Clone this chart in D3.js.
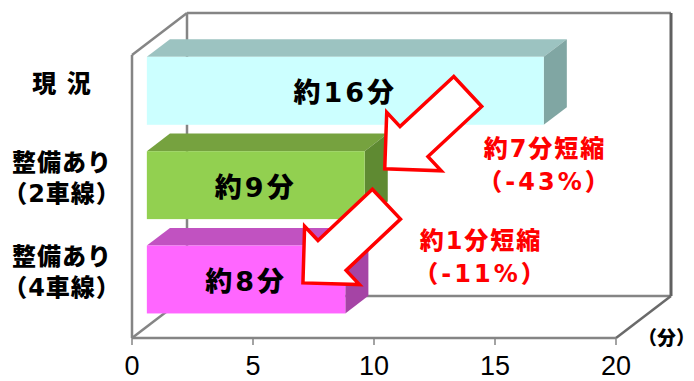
<!DOCTYPE html>
<html>
<head>
<meta charset="utf-8">
<script src="https://cdn.jsdelivr.net/npm/d3@7"></script>
<style>
  body { margin: 0; background: #fff; }
  svg { display: block; font-family: "DejaVu Sans", "Noto Sans CJK JP", sans-serif; }
</style>
</head>
<body>
<svg id="chart" width="694" height="381"></svg>
<script>
// data
const categories = [["現 況"], ["整備あり", "（2車線）"], ["整備あり", "（4車線）"]];
const minutes = [16.4, 9.0, 8.2];
const barLabels = ["約16分", "約9分", "約8分"];
const xTicks = [0, 5, 10, 15, 20];
const cutLabels = ["約7分短縮", "約1分短縮"];
const cutRates = ["（-43%）", "（-11%）"];
const unitLabel = "（分）";

const faceColors = ["#ccffff", "#92d050", "#ff66ff"];
const topColors = ["#9cc3c1", "#76a23f", "#c152c1"];
const sideColors = ["#80a6a3", "#5f8a32", "#a544a5"];

const svg = d3.select("#chart");

const x = d3.scaleLinear().domain([0, 20]).range([132, 616]);
const top0 = 55, bottom0 = 338;
const depth = { dx: 55, dy: -42 };
// bars sit between 27% and 69% of the floor depth
const front = 0.27, back = 0.69;
const y = d3.scaleBand().domain(d3.range(categories.length))
  .range([top0, bottom0]).paddingInner(0.28).paddingOuter(0.14);
const bw = y.bandwidth();

const fx = v => x(v) + front * depth.dx;
const fy = i => y(i) + front * depth.dy;

// back wall + floor (behind the bars)
const frame = svg.append("g").attr("fill", "none").attr("stroke", "#858585").attr("stroke-width", 2.5);
const xb = v => x(v) + depth.dx;
const yTopB = top0 + depth.dy, yBotB = bottom0 + depth.dy;
frame.append("line").attr("x1", xb(0)).attr("y1", yTopB).attr("x2", xb(0)).attr("y2", yBotB);
frame.append("line").attr("x1", xb(0)).attr("y1", yBotB).attr("x2", xb(20)).attr("y2", yBotB);
frame.append("line").attr("x1", x(0)).attr("y1", bottom0).attr("x2", xb(0)).attr("y2", yBotB);
frame.append("line").attr("x1", x(0)).attr("y1", top0).attr("x2", xb(0)).attr("y2", yTopB);
frame.append("line").attr("x1", xb(0)).attr("y1", yTopB).attr("x2", xb(20)).attr("y2", yTopB);
frame.append("line").attr("x1", xb(20)).attr("y1", yTopB).attr("x2", xb(20)).attr("y2", yBotB)
  .attr("stroke", "#606060").attr("stroke-width", 3);
frame.append("line").attr("x1", xb(20)).attr("y1", yBotB).attr("x2", x(20)).attr("y2", bottom0)
  .attr("stroke", "#6a6a6a");

// bars
const bars = svg.selectAll(".bar").data(minutes).enter().append("g").attr("class", "bar");
const bdx = (back - front) * depth.dx, bdy = (back - front) * depth.dy;
bars.append("polygon")
  .attr("fill", (d, i) => topColors[i])
  .attr("points", (d, i) => [
    [fx(0), fy(i)], [fx(d), fy(i)], [fx(d) + bdx, fy(i) + bdy], [fx(0) + bdx, fy(i) + bdy]
  ].join(" "));
bars.append("polygon")
  .attr("fill", (d, i) => sideColors[i])
  .attr("points", (d, i) => [
    [fx(d), fy(i)], [fx(d) + bdx, fy(i) + bdy], [fx(d) + bdx, fy(i) + bw + bdy], [fx(d), fy(i) + bw]
  ].join(" "));
bars.append("rect")
  .attr("x", fx(0))
  .attr("y", (d, i) => fy(i))
  .attr("width", d => fx(d) - fx(0))
  .attr("height", bw)
  .attr("fill", (d, i) => faceColors[i]);
bars.append("text")
  .attr("x", d => (fx(0) + fx(d)) / 2)
  .attr("y", (d, i) => fy(i) + bw / 2 + 2)
  .attr("text-anchor", "middle")
  .attr("dominant-baseline", "central")
  .attr("font-size", 27)
  .attr("font-weight", 900)
  .attr("letter-spacing", 3)
  .text((d, i) => barLabels[i]);

// front frame: left edge + x axis
const axis = svg.append("g").attr("stroke", "#858585").attr("stroke-width", 2.5);
axis.append("line").attr("x1", x(0)).attr("y1", top0).attr("x2", x(0)).attr("y2", bottom0);
axis.append("line").attr("x1", x(0)).attr("y1", bottom0).attr("x2", x(20)).attr("y2", bottom0);
axis.selectAll(".tick").data(xTicks).enter().append("line")
  .attr("x1", d => x(d)).attr("x2", d => x(d))
  .attr("y1", bottom0).attr("y2", bottom0 + 7).attr("stroke-width", 1.5);
svg.selectAll(".tickLabel").data(xTicks).enter().append("text")
  .attr("x", d => x(d))
  .attr("y", 375)
  .attr("text-anchor", "middle")
  .attr("font-family", "'Liberation Sans', Arial, sans-serif")
  .attr("font-size", 27)
  .text(d => d);
svg.append("text")
  .attr("x", 638).attr("y", 338)
  .attr("dominant-baseline", "central")
  .attr("font-size", 19).attr("font-weight", 900)
  .text(unitLabel);

// category labels
const cat = svg.selectAll(".cat").data(categories).enter().append("text")
  .attr("text-anchor", "middle")
  .attr("font-size", 24).attr("font-weight", 900)
  .attr("letter-spacing", 1);
cat.each(function (lines, i) {
  const cy = fy(i) + bw / 2 - 7;
  lines.forEach((s, k) => {
    d3.select(this).append("tspan")
      .attr("x", 62)
      .attr("y", cy + (k - (lines.length - 1) / 2) * 31)
      .attr("dominant-baseline", "central")
      .text(s);
  });
});

// block arrows
const arrows = [
  { tail: [13.26, 0, 0.51], tip: [9.83, 1, 0.26] },
  { tail: [9.9, 1, 0.78], tip: [6.45, 2, 0.55] }
];
function arrowPoints(a) {
  const sx = fx(a.tail[0]), sy = fy(a.tail[1]) + a.tail[2] * bw;
  const tx = fx(a.tip[0]), ty = fy(a.tip[1]) + a.tip[2] * bw;
  const len = Math.hypot(tx - sx, ty - sy);
  const ux = (tx - sx) / len, uy = (ty - sy) / len;
  const nx = -uy, ny = ux;
  const head = 40, half = 40, shaft = 20.5;
  const bx = tx - ux * head, by = ty - uy * head;
  return [
    [sx + nx * shaft, sy + ny * shaft], [bx + nx * shaft, by + ny * shaft], [bx + nx * half, by + ny * half],
    [tx, ty],
    [bx - nx * half, by - ny * half], [bx - nx * shaft, by - ny * shaft], [sx - nx * shaft, sy - ny * shaft]
  ].join(" ");
}
svg.selectAll(".arrow").data(arrows).enter().append("polygon")
  .attr("points", arrowPoints)
  .attr("fill", "#fff").attr("stroke", "#ff0000").attr("stroke-width", 3.5)
  .attr("stroke-linejoin", "miter");

// reduction notes
const notePos = [[545, 149], [481, 241]];
cutLabels.forEach((s, i) => {
  const g = svg.append("g").attr("fill", "#ff0000").attr("font-weight", 900)
    .attr("font-size", 24).attr("text-anchor", "middle");
  g.append("text").attr("x", notePos[i][0]).attr("y", notePos[i][1])
    .attr("dominant-baseline", "central").attr("letter-spacing", 2).text(s);
  g.append("text").attr("x", notePos[i][0]).attr("y", notePos[i][1] + 33)
    .attr("dominant-baseline", "central").attr("letter-spacing", 3).text(cutRates[i]);
});
</script>
</body>
</html>
